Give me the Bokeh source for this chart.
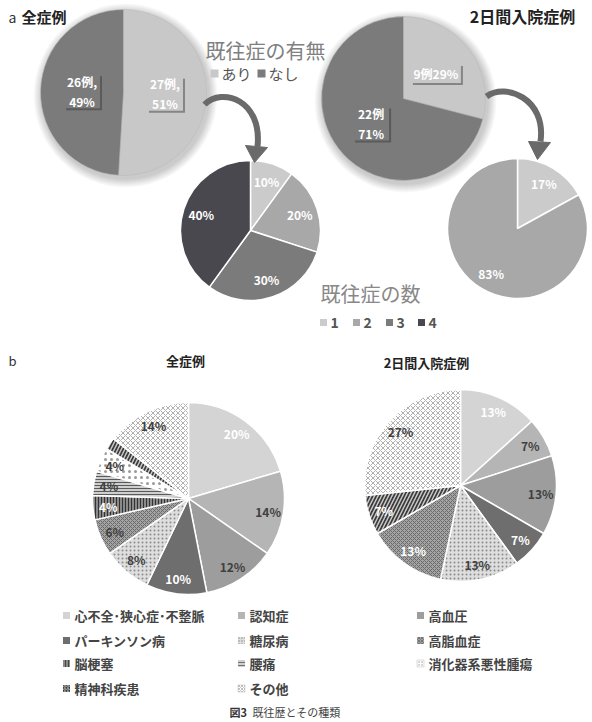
import numpy as np
from bokeh.plotting import figure
from bokeh.models import Range1d, ColumnDataSource
from bokeh.core.properties import value
from bokeh.embed import file_html
from bokeh.resources import INLINE

W, H = 592, 722
FONT = "Noto Sans CJK JP"

# ---------------- data ----------------
a_cats = ["あり", "なし"]
a_all_counts = [27, 26]
a_2day_counts = [9, 22]
a_all_sep = [",\n", ",\n"]
a_2day_sep = ["", "\n"]

num_cats = ["1", "2", "3", "4"]
num_all_pct = [10, 20, 30, 40]
num_2day_pct = [17, 83]

b_cats = ["心不全･狭心症･不整脈", "認知症", "高血圧", "パーキンソン病", "糖尿病",
          "高脂血症", "脳梗塞", "腰痛", "消化器系悪性腫瘍", "精神科疾患", "その他"]
b_all_counts = [10, 7, 6, 5, 4, 3, 2, 2, 2, 1, 7]
b_2day_counts = [2, 1, 2, 1, 2, 2, 0, 0, 0, 1, 4]

# ---------------- styles ----------------
a_colors = ["#c8c8c8", "#7b7b7b"]
num_colors = ["#cbcbcb", "#a8a8a8", "#7b7b7b", "#48484e"]
b_fill = ["#d4d4d4", "#b5b5b5", "#9d9d9d", "#6e6e6e", "#dedede", "#a4a4a4",
          "#8a8a8a", "#cfcfcf", "#ffffff", "#3a3a3a", "#ffffff"]
b_hatch = [" ", " ", " ", " ", ".", "x", "|", "-", ".", "/", "x"]
b_hcolor = ["#000", "#000", "#000", "#000", "#8a8a8a", "#6a6a6a", "#333333",
            "#5a5a5a", "#9a9a9a", "#c8c8c8", "#b0b0b0"]
b_hscale = [12, 12, 12, 12, 4, 4, 3, 3, 6, 7, 5]
b_hweight = [1, 1, 1, 1, 1, 1, 1, 1, 1.2, 1.5, 1]
DARK = "#404040"
b_all_lbl_color = ["white", DARK, DARK, "white", DARK, DARK, "white", DARK, DARK, DARK, DARK]
b_2day_lbl_color = ["white", DARK, DARK, "white", DARK, "white", "white", DARK, DARK, "white", DARK]


def Y(py):
    return H - py


p = figure(width=W, height=H, x_range=Range1d(0, W), y_range=Range1d(0, H),
           output_backend="svg", toolbar_location=None, min_border=0)
p.axis.visible = False
p.grid.visible = False
p.outline_line_color = None
p.background_fill_color = "white"


def txt(x, y, s, size, color, bold=False, align="left", font=FONT, baseline="middle"):
    p.text(x=[x], y=[Y(y)], text=[s], text_font=value(font), text_font_size=f"{size}px",
           text_color=color, text_font_style="bold" if bold else "normal",
           text_align=align, text_baseline=baseline, text_line_height=1.15)


def angles(vals):
    fr = np.array(vals, dtype=float) / float(sum(vals))
    cum = np.concatenate([[0.0], np.cumsum(fr)])
    start = np.pi / 2 - cum[1:] * 2 * np.pi
    end = np.pi / 2 - cum[:-1] * 2 * np.pi
    mid = np.pi / 2 - (cum[:-1] + fr / 2) * 2 * np.pi
    return fr, start, end, mid


def glow(cx, cy, r):
    for i in range(1, 10):
        p.circle(x=[cx + 2], y=[Y(cy + 3)], radius=r + i, fill_color="black",
                 fill_alpha=0.022, line_color=None)


def pie(cx, cy, r, vals, fills, line_color="white", lw=1.5, hatch=None,
        hcolor=None, hscale=None, hweight=None):
    fr, st, en, mid = angles(vals)
    keep = [i for i, v in enumerate(vals) if v > 0]
    n = len(vals)
    data = dict(start=st[keep], end=en[keep],
                fill=[fills[i] for i in keep],
                hp=[(hatch or [" "] * n)[i] for i in keep],
                hc=[(hcolor or ["#000"] * n)[i] for i in keep],
                hs=[(hscale or [12] * n)[i] for i in keep],
                hw=[(hweight or [1] * n)[i] for i in keep])
    src = ColumnDataSource(data)
    p.wedge(x=cx, y=Y(cy), radius=r, start_angle="start", end_angle="end",
            fill_color="fill", line_color=line_color, line_width=lw,
            hatch_pattern="hp", hatch_color="hc", hatch_scale="hs",
            hatch_weight="hw", source=src)
    return fr, mid


# ================= panel a =================
txt(8, 16, "a", 14, "#333")
txt(21, 16, "全症例", 15, "#222", bold=True)
txt(522, 15, "2日間入院症例", 16, "#222", bold=True, align="center")

TL = (123, 92, 83)
TR = (403, 98, 82)
for c in (TL, TR):
    glow(*c)

for (cx, cy, r), counts, seps in ((TL, a_all_counts, a_all_sep),
                                  (TR, a_2day_counts, a_2day_sep)):
    fr, mid = pie(cx, cy, r, counts, a_colors, line_color="#bbbbbb", lw=0.6)
    for i in range(len(counts)):
        lx = cx + 0.5 * r * np.cos(mid[i])
        ly = cy - 0.5 * r * np.sin(mid[i])
        s = f"{counts[i]}例{seps[i]}{round(fr[i] * 100):d}%"
        two = "\n" in s
        bw, bh = (36, 34) if two else (50, 19)
        p.rect(x=[lx + 2], y=[Y(ly + 2)], width=bw, height=bh, fill_color="#333333",
               fill_alpha=0.45, line_color=None)
        p.rect(x=[lx], y=[Y(ly)], width=bw, height=bh, fill_color=a_colors[i],
               line_color=None)
        txt(lx, ly, s, 12, "white", bold=True, align="center")

# legend 既往症の有無
txt(205, 50, "既往症の有無", 20, "#808080")
for i, (mx, tx) in enumerate(((214, 221), (261, 268))):
    p.rect(x=[mx], y=[Y(73)], width=8, height=8, fill_color=a_colors[i], line_color=None)
    txt(tx, 73, a_cats[i], 15, "#555")

# small pies
SL = (250, 230, 70)
SR = (517, 228, 70)
for (cx, cy, r), pct in ((SL, num_all_pct), (SR, num_2day_pct)):
    fr, mid = pie(cx, cy, r, pct, num_colors[:len(pct)], line_color="white", lw=1.5)
    for i in range(len(pct)):
        lx = cx + 0.74 * r * np.cos(mid[i])
        ly = cy - 0.74 * r * np.sin(mid[i])
        txt(lx, ly, f"{pct[i]}%", 12, "white", bold=True, align="center")

# curved arrows
arrows = [((204, 104), (222, 86), (262, 100), (257, 146), (254, 162), (245, 145), (267, 147)),
          ((486, 96), (505, 82), (546, 98), (540, 141), (537, 159), (528, 141), (550, 142))]
for s0, c0, c1, e1, tip, b1, b2 in arrows:
    p.bezier(x0=[s0[0]], y0=[Y(s0[1])], cx0=[c0[0]], cy0=[Y(c0[1])],
             cx1=[c1[0]], cy1=[Y(c1[1])], x1=[e1[0]], y1=[Y(e1[1])],
             line_color="#6a6a6a", line_width=6)
    p.patch(x=[tip[0], b1[0], b2[0]], y=[Y(tip[1]), Y(b1[1]), Y(b2[1])],
            fill_color="#6a6a6a", line_color="#6a6a6a")

# legend 既往症の数
txt(320, 293, "既往症の数", 20, "#888888")
for i, (mx, tx) in enumerate(((323, 330), (356, 363), (389, 396), (421, 428))):
    p.rect(x=[mx], y=[Y(322)], width=7, height=7, fill_color=num_colors[i], line_color=None)
    txt(tx, 322, num_cats[i], 14, "#555", bold=True)

# ================= panel b =================
txt(8, 360, "b", 13, "#333")
txt(185, 360, "全症例", 13, "#222", bold=True, align="center")
txt(426, 362, "2日間入院症例", 13, "#222", bold=True, align="center")

BL = (188, 498, 96)
BR = (460, 485, 96)
for (cx, cy, r), counts, lcol in ((BL, b_all_counts, b_all_lbl_color),
                                  (BR, b_2day_counts, b_2day_lbl_color)):
    fr, mid = pie(cx, cy, r, counts, b_fill, line_color="white", lw=1.5,
                  hatch=b_hatch, hcolor=b_hcolor, hscale=b_hscale, hweight=b_hweight)
    for i in range(len(counts)):
        pc = round(fr[i] * 100)
        if pc < 3:
            continue
        lx = cx + 0.84 * r * np.cos(mid[i])
        ly = cy - 0.84 * r * np.sin(mid[i])
        txt(lx, ly, f"{pc}%", 12, lcol[i], bold=True, align="center")

# legend
col_mx = [66, 241, 420]
row_y = [615, 640, 663, 688]
for i, cat in enumerate(b_cats):
    row, col = divmod(i, 3)
    mx, my = col_mx[col], row_y[row]
    p.rect(x=[mx], y=[Y(my)], width=7, height=7, fill_color=b_fill[i],
           line_color="#bbbbbb" if b_fill[i] == "#ffffff" else None, line_width=0.5,
           hatch_pattern=b_hatch[i], hatch_color=b_hcolor[i], hatch_scale=3,
           hatch_weight=0.8)
    txt(mx + 8, my, cat, 13, "#444", bold=True)

# caption
txt(229, 711, "図3", 11, "#333", bold=True)
txt(252, 711, "既往歴とその種類", 11, "#444")

open("out.html", "w").write(file_html(p, INLINE))
